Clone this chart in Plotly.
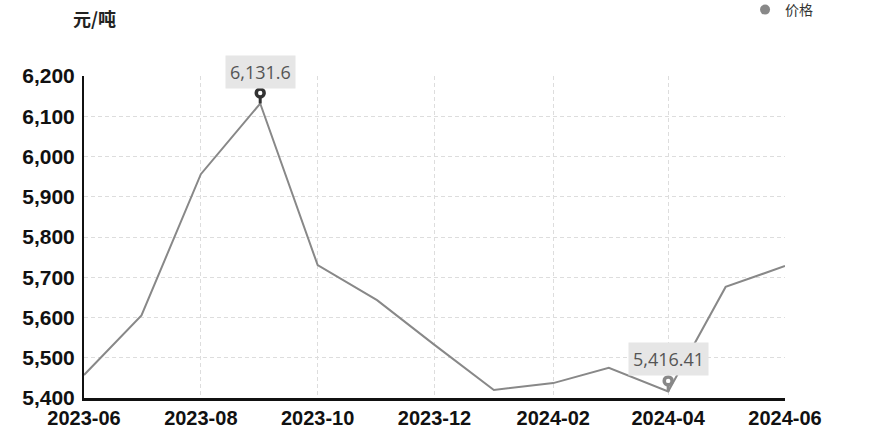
import plotly.graph_objects as go

months = ["2023-06", "2023-07", "2023-08", "2023-09", "2023-10", "2023-11", "2023-12",
          "2024-01", "2024-02", "2024-03", "2024-04", "2024-05", "2024-06"]
prices = [5457, 5605, 5956, 6131.6, 5730, 5643, 5532, 5420, 5437, 5475, 5416.41, 5676, 5728]
series_name = "价格"
y_title = "元/吨"

dates = [m + "-01" for m in months]
imax = prices.index(max(prices))
imin = prices.index(min(prices))

LINE = "#888888"
FONT = "Liberation Sans, Noto Sans CJK SC, sans-serif"

fig = go.Figure()
fig.add_trace(go.Scatter(x=dates, y=prices, mode="lines",
                         line=dict(color=LINE, width=2), showlegend=False,
                         hoverinfo="x+y"))
fig.add_trace(go.Scatter(x=[None], y=[None], mode="markers", name=series_name,
                         marker=dict(color=LINE, size=10, symbol="circle")))

def pin(i, color, label):
    x, y = dates[i], prices[i]
    # pin: tail ending in a round head
    fig.add_annotation(x=x, y=y, xref="x", yref="y", text="", showarrow=True,
                       ax=0, ay=-12, arrowhead=0, arrowwidth=3, arrowcolor=color,
                       arrowside="start", startarrowhead=6, startarrowsize=0.95)
    # white hole in the head
    fig.add_annotation(x=x, y=y, xref="x", yref="y", text="", showarrow=True,
                       ax=0, ay=-12, arrowhead=0, arrowwidth=1, arrowcolor="white",
                       arrowside="start", startarrowhead=6, startarrowsize=1.1,
                       standoff=10)
    # label box
    fig.add_annotation(x=x, y=y, xref="x", yref="y", text=label, showarrow=False,
                       yshift=32, bgcolor="#e6e6e6", borderpad=4,
                       font=dict(size=18, color="#555555", family="Open Sans, sans-serif"))

pin(imax, "#333333", f"{prices[imax]:,}")
pin(imin, "#888888", f"{prices[imin]:,}")

fig.add_annotation(text="<b>" + y_title + "</b>", xref="paper", yref="paper",
                   x=-0.018, y=1.228, showarrow=False,
                   font=dict(size=18, color="#222", family="Noto Sans CJK SC, sans-serif"))

fig.update_layout(
    width=874, height=446,
    margin=dict(l=84, r=89, t=76, b=48, autoexpand=False),
    plot_bgcolor="white", paper_bgcolor="white",
    font=dict(family=FONT, color="#111"),
    legend=dict(x=0.943, y=1.205, xanchor="left", yanchor="middle",
                font=dict(size=14, color="#333", family="Noto Sans CJK SC, sans-serif"),
                bgcolor="rgba(0,0,0,0)", itemwidth=30),
    xaxis=dict(type="date", range=[dates[0], dates[-1]], dtick="M2",
               tick0=dates[0], tickformat="%Y-%m",
               showgrid=True, gridcolor="#dddddd", griddash="4px,3px", gridwidth=1,
               showline=True, linecolor="#111", linewidth=3, ticks="",
               tickfont=dict(size=20, color="#111", family=FONT, weight="bold")),
    yaxis=dict(range=[5400, 6200], dtick=100, tickformat=",",
               showgrid=True, gridcolor="#dddddd", griddash="4px,3px", gridwidth=1,
               showline=True, linecolor="#111", linewidth=2, ticks="",
               zeroline=False, ticklabelstandoff=3,
               tickfont=dict(size=21, color="#111", family=FONT, weight="bold")),
)

fig.write_html("out.html", config={"displayModeBar": False},
               post_script="document.body.style.margin='0';")
